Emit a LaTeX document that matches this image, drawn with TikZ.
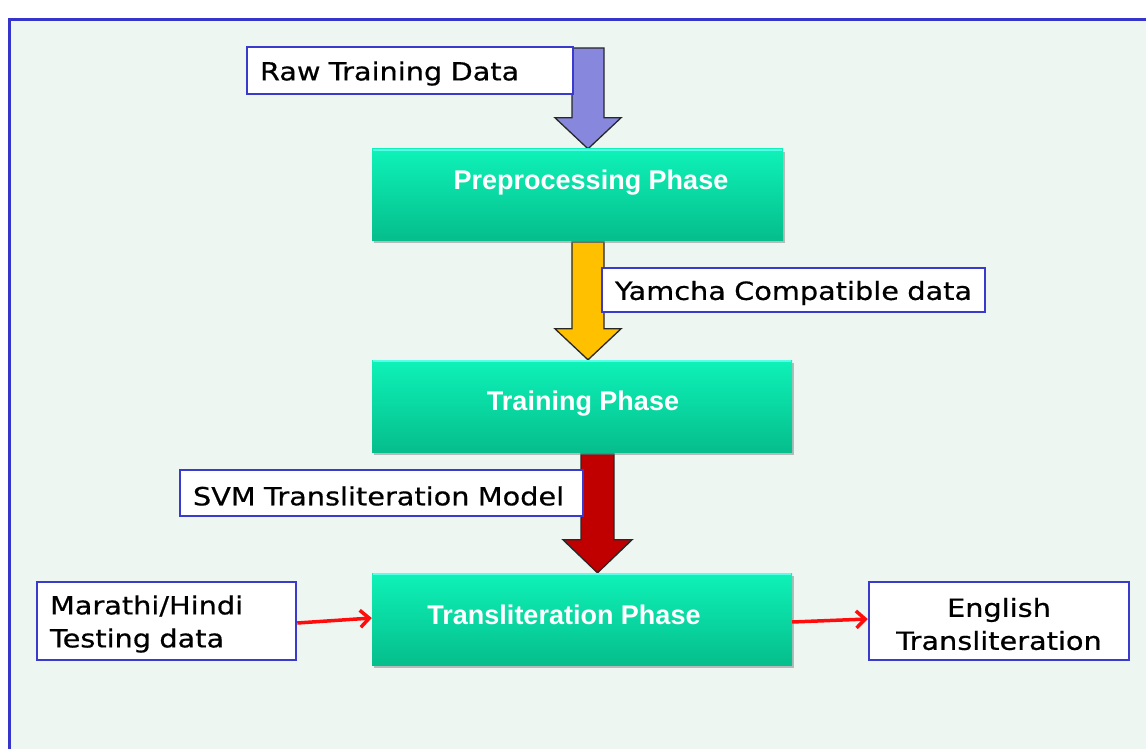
\documentclass[tikz,border=0pt]{standalone}
\usepackage{fontspec}
\usetikzlibrary{arrows.meta,shadows,calc}
\newfontfamily\lbl[FakeStretch=1.15,FakeBold=0.6]{DejaVu Sans}
\newfontfamily\grn{Liberation Sans}
\definecolor{bgc}{RGB}{238,246,242}
\definecolor{frameblue}{RGB}{53,53,204}
\definecolor{boxblue}{RGB}{58,58,204}
\definecolor{gtop}{RGB}{14,242,184}
\definecolor{gbot}{RGB}{5,190,140}
\definecolor{gedge}{RGB}{90,255,232}
\definecolor{purp}{RGB}{135,135,221}
\definecolor{yel}{RGB}{255,192,0}
\definecolor{dred}{RGB}{192,0,0}
\definecolor{conred}{RGB}{255,12,12}
\definecolor{arrline}{RGB}{40,40,40}
\pgfdeclarelayer{bg}
\pgfdeclarelayer{arr}
\pgfsetlayers{bg,arr,main}
\newcommand{\dn}[1]{\raisebox{-3pt}[\height][\depth]{#1}}
\tikzset{
  labelbox/.style={draw=boxblue, line width=2.5pt, fill=white, inner xsep=13pt, inner ysep=0pt,
    font=\lbl\fontsize{25}{33}\selectfont, text=black},
  phasebox/.style={rectangle, inner sep=0pt, top color=gtop, bottom color=gbot,
    drop shadow={opacity=0.5, shadow xshift=2pt, shadow yshift=-3pt}},
  phasetext/.style={text=white, font=\grn\bfseries\fontsize{27}{30}\selectfont, inner sep=0pt},
  blockline/.style={draw=arrline, line width=1.3pt, line join=miter},
  conn/.style={draw=conred, line width=3.5pt, -{Straight Barb[length=9pt,width=17pt,line width=3.5pt]}}
}
\newcommand{\blockarr}[6]{%
  \path[blockline, fill=#3] let \p1=(#1), \p2=(#2) in
    (\x2-#4pt,\y1) -- (\x2+#4pt,\y1) -- (\x2+#4pt,\y2+#6pt) -- (\x2+#5pt,\y2+#6pt)
    -- (\x2,\y2) -- (\x2-#5pt,\y2+#6pt) -- (\x2-#4pt,\y2+#6pt) -- cycle;}
\begin{document}
\begin{tikzpicture}[x=1pt,y=-1pt]
\useasboundingbox (0,0) rectangle (1146,749);
\begin{pgfonlayer}{bg}
  \fill[white] (0,0) rectangle (1146,749);
  \draw[frameblue, line width=3pt, fill=bgc] (9,19.5) rectangle (1170,780);
\end{pgfonlayer}

% phase boxes
\node[phasebox, minimum width=411pt, minimum height=91pt] (pre) at (577.5,194.5) {};
\node[phasebox, minimum width=420pt, minimum height=92pt] (train) at (582,406) {};
\node[phasebox, minimum width=420pt, minimum height=92pt] (trans) at (582,619) {};
\foreach \b in {pre,train,trans}{
  \draw[gedge, line width=2pt] ($(\b.north west)+(1,1)$) -- ($(\b.north east)+(-1,1)$);
}
\node[phasetext] (pretxt) at (591,183) {Preprocessing Phase};
\node[phasetext] (traintxt) at (583,404) {Training Phase};
\node[phasetext] (transtxt) at (564,615) {Transliteration Phase};

% label boxes
\node[labelbox, text width=300pt, minimum height=47pt, align=left] (raw) at (410,70.5) {\dn{Raw Training Data}};
\node[labelbox, text width=357pt, minimum height=44pt, align=left] (yam) at (793.5,290) {\dn{Yamcha Compatible data}};
\node[labelbox, text width=377pt, minimum height=46pt, align=left] (svm) at (381.5,493) {\dn{SVM Transliteration Model}};
\node[labelbox, text width=233pt, minimum height=78pt, align=left] (mar) at (166.5,621) {\dn{Marathi/Hindi}\\\dn{Testing data}};
\node[labelbox, text width=234pt, minimum height=78pt, align=center] (eng) at (999,621) {\dn{English}\\\dn{Transliteration}};

% block arrows
\coordinate (a1s) at (588,48);
\coordinate (a1e) at (a1s |- pre.north);
\coordinate (a2s) at (588,242);
\coordinate (a2e) at (a2s |- train.north);
\coordinate (a3s) at (597.5,454);
\coordinate (a3e) at (a3s |- trans.north);
\begin{pgfonlayer}{arr}
  \blockarr{a1s}{a1e}{purp}{16}{33}{31}
  \blockarr{a2s}{a2e}{yel}{16}{33}{31}
  \blockarr{a3s}{a3e}{dred}{16.5}{34.5}{33}
\end{pgfonlayer}

% connectors
\draw[conn] ($(mar.east)+(0,2)$) -- ($(trans.west)+(0,-1)$);
\draw[conn] ($(trans.east)+(0,3)$) -- ($(eng.west)+(0,-2)$);
\end{tikzpicture}
\end{document}
